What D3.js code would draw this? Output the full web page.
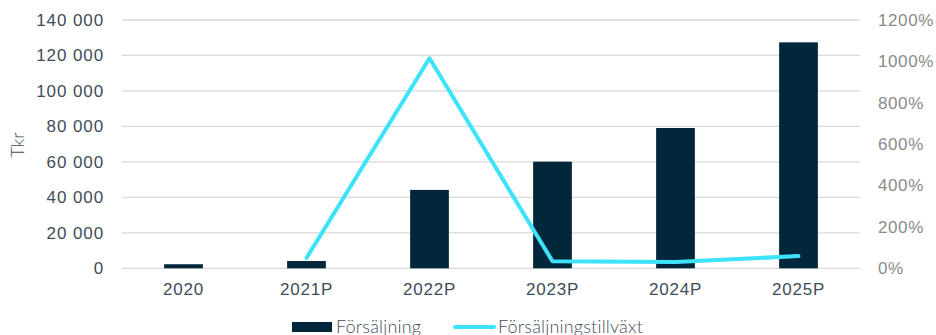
<!DOCTYPE html>
<html>
<head>
<meta charset="utf-8">
<script src="https://cdn.jsdelivr.net/npm/d3@7"></script>
<style>
  html, body { margin: 0; padding: 0; background: #fff; }
  svg { display: block; font-family: Lato, "Open Sans", sans-serif; font-weight: 300; }
</style>
</head>
<body>
<svg id="chart" width="936" height="335"></svg>
<script>
// Sales (Tkr) and year-over-year sales growth
const years = ["2020", "2021P", "2022P", "2023P", "2024P", "2025P"];
const sales = [2300, 4100, 44200, 60100, 79100, 127400];
const growth = [null, 0.50, 10.15, 0.34, 0.30, 0.59];
const leftTicks = [0, 20000, 40000, 60000, 80000, 100000, 120000, 140000];
const rightTicks = [0, 2, 4, 6, 8, 10, 12];
const seriesNames = ["Försäljning", "Försäljningstillväxt"];

const FONT = 17;
const svg = d3.select("#chart");
const plot = { left: 122, right: 860, top: 20, bottom: 268.3 };

const x = d3.scaleBand().domain(years).range([plot.left, plot.right]).paddingInner(0.685).paddingOuter(0.3425);
const yL = d3.scaleLinear().domain([0, 140000]).range([plot.bottom, plot.top]);
const yR = d3.scaleLinear().domain([0, 12]).range([plot.bottom, plot.top]);

const fmt = d => d3.format(",")(d).replace(/,/g, " ");

// gridlines
svg.append("g")
  .selectAll("line")
  .data(leftTicks)
  .join("line")
  .attr("x1", plot.left).attr("x2", plot.right)
  .attr("y1", d => yL(d)).attr("y2", d => yL(d))
  .attr("stroke", "#d9d9d9").attr("stroke-width", 1.3);

// left axis
const axL = svg.append("g")
  .attr("transform", `translate(${plot.left - 18},0)`)
  .call(d3.axisLeft(yL).tickValues(leftTicks).tickFormat(fmt).tickSize(0).tickPadding(0));
axL.select(".domain").remove();
axL.selectAll("text").attr("font-size", FONT).attr("fill", "#3f4c59").attr("font-family", null)
  .attr("letter-spacing", 0.9);

// right axis
const axR = svg.append("g")
  .attr("transform", `translate(${plot.right + 18},0)`)
  .call(d3.axisRight(yR).tickValues(rightTicks).tickFormat(d => (d * 100) + "%").tickSize(0).tickPadding(0));
axR.select(".domain").remove();
axR.selectAll("text").attr("font-size", FONT).attr("fill", "#8a8a8a").attr("font-family", null)
  .attr("letter-spacing", 0.6);

// x axis
const axX = svg.append("g")
  .attr("transform", `translate(0,${plot.bottom})`)
  .call(d3.axisBottom(x).tickSize(0).tickPadding(15));
axX.select(".domain").remove();
axX.selectAll("text").attr("font-size", FONT).attr("fill", "#3f4c59").attr("font-family", null)
  .attr("letter-spacing", 0.8);

// y axis title
svg.append("text")
  .attr("transform", `translate(24,145) rotate(-90)`)
  .attr("text-anchor", "middle")
  .attr("font-size", 18).attr("fill", "#3f4c59")
  .text("Tkr");

// bars
svg.append("g")
  .selectAll("rect")
  .data(years.map((y, i) => ({ y, v: sales[i] })))
  .join("rect")
  .attr("x", d => x(d.y))
  .attr("width", x.bandwidth())
  .attr("y", d => yL(d.v))
  .attr("height", d => yL(0) - yL(d.v))
  .attr("fill", "#02273a");

// growth line
const line = d3.line()
  .defined(d => d.g != null)
  .x(d => x(d.y) + x.bandwidth() / 2)
  .y(d => yR(d.g));
svg.append("path")
  .datum(years.map((y, i) => ({ y, g: growth[i] })))
  .attr("d", line)
  .attr("fill", "none")
  .attr("stroke", "#3de3fb")
  .attr("stroke-width", 4)
  .attr("stroke-linecap", "round")
  .attr("stroke-linejoin", "round");

// legend
const lg = svg.append("g").attr("font-size", 18).attr("fill", "#3f4c59").attr("letter-spacing", 0.2);
lg.append("rect").attr("x", 292).attr("y", 322).attr("width", 40).attr("height", 10).attr("fill", "#02273a");
lg.append("text").attr("x", 336).attr("y", 333).text(seriesNames[0]);
lg.append("line").attr("x1", 455).attr("x2", 494).attr("y1", 327).attr("y2", 327)
  .attr("stroke", "#3de3fb").attr("stroke-width", 4).attr("stroke-linecap", "round");
lg.append("text").attr("x", 498).attr("y", 333).text(seriesNames[1]);
</script>
</body>
</html>
